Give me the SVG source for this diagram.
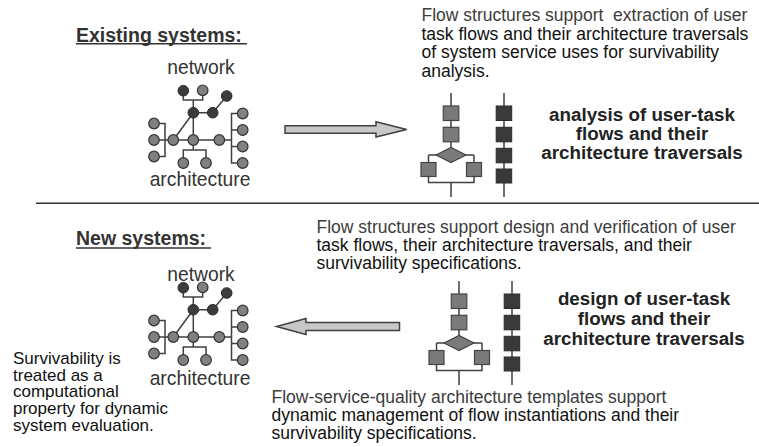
<svg xmlns="http://www.w3.org/2000/svg" xmlns:xlink="http://www.w3.org/1999/xlink" width="759" height="447" viewBox="0 0 759 447">
<style>
text{font-family:"Liberation Sans",Arial,sans-serif;}
.head{font-size:19.5px;font-weight:bold;fill:#333;}
.lbl{font-size:19.3px;fill:#333;text-anchor:middle;}
.p1{font-size:17.5px;fill:#3c3c3c;}
.p2{font-size:17.5px;fill:#111;}
.note{font-size:17px;fill:#111;}
.bold{font-size:18.8px;font-weight:bold;fill:#222;text-anchor:middle;}
.edge{fill:none;stroke:#404040;stroke-width:1.5;}
.nd{fill:#3c3c3c;stroke:#2a2a2a;stroke-width:1;}
.ng{fill:#808080;stroke:#333;stroke-width:1.2;}
.sq{fill:#7a7a7a;stroke:#444;stroke-width:1.2;}
.sqd{fill:#3a3a3a;stroke:#2a2a2a;stroke-width:1;}
.arrow{fill:#c8c8c8;stroke:#404040;stroke-width:1.5;}
.rule{stroke:#333;stroke-width:1.5;}
</style>
<defs>
<g id="netShape">
<path class="edge" d="M183.3 90.7V100H202.7V90M193.3 100V150M193.3 112.7H212.7L226.7 96M193.3 112.7L173.3 140M154 140H231.5M154 123.5H165V156.5H154M242.7 113.5H231.5V163H242.7M231.5 130H242.7M231.5 146.5H242.7M183.3 163V150H206V163"/>
<circle class="nd" cx="183.3" cy="90.7" r="5.3"/>
<circle class="ng" cx="202.7" cy="90.3" r="5.3"/>
<circle class="nd" cx="226.7" cy="96" r="5.3"/>
<circle class="nd" cx="193.3" cy="112.7" r="5.3"/>
<circle class="nd" cx="212.7" cy="112.7" r="5.3"/>
<circle class="ng" cx="154" cy="123.5" r="5.3"/>
<circle class="ng" cx="154" cy="140" r="5.3"/>
<circle class="ng" cx="154" cy="156.5" r="5.3"/>
<circle class="ng" cx="173.3" cy="140" r="5.3"/>
<circle class="ng" cx="193.3" cy="140" r="5.3"/>
<circle class="ng" cx="219.3" cy="140" r="5.3"/>
<circle class="ng" cx="242.7" cy="113.5" r="5.3"/>
<circle class="ng" cx="242.7" cy="130" r="5.3"/>
<circle class="ng" cx="242.7" cy="146.5" r="5.3"/>
<circle class="ng" cx="242.7" cy="163" r="5.3"/>
<circle class="ng" cx="183.3" cy="163" r="5.3"/>
<circle class="ng" cx="206" cy="163" r="5.3"/>
</g>
<g id="flowShape">
<path class="edge" d="M451 93V148M451 182.5V197M428.5 155H474M428.5 155V182.5H474V155M504 93V197"/>
<rect class="sq" x="443.3" y="106" width="15.5" height="14.5"/>
<rect class="sq" x="443.3" y="127.3" width="15.5" height="14.5"/>
<polygon class="sq" points="436,155 451,147.5 466,155 451,162.5"/>
<rect class="sq" x="421" y="162.5" width="15" height="14"/>
<rect class="sq" x="466.5" y="162.5" width="15" height="14"/>
<rect class="sqd" x="496.2" y="106" width="15.5" height="14.5"/>
<rect class="sqd" x="496.2" y="127.3" width="15.5" height="14.5"/>
<rect class="sqd" x="496.2" y="148.3" width="15.5" height="14.5"/>
<rect class="sqd" x="496.2" y="169" width="15.5" height="14"/>
</g>
</defs>

<g id="existing-title">
<text class="head" x="76" y="41.5">Existing systems:</text>
<line class="rule" x1="76" y1="43.8" x2="247" y2="43.8"/>
</g>
<g id="existing-network">
<text class="lbl" x="201" y="73.5">network</text>
<use xlink:href="#netShape" href="#netShape"/>
<text class="lbl" x="200" y="185.5">architecture</text>
</g>
<g id="existing-text">
<text class="p1" x="421.5" y="21">Flow structures support&#160; extraction of user</text>
<text class="p2" x="421.5" y="39.5">task flows and their architecture traversals</text>
<text class="p2" x="421.5" y="58">of system service uses for survivability</text>
<text class="p2" x="421.5" y="76.5">analysis.</text>
</g>
<g id="existing-flow">
<use xlink:href="#flowShape" href="#flowShape"/>
</g>
<g id="existing-label">
<text class="bold" x="642" y="121">analysis of user-task</text>
<text class="bold" x="642" y="140">flows and their</text>
<text class="bold" x="642" y="159">architecture traversals</text>
</g>

<line id="divider" class="rule" x1="36" y1="203.3" x2="759" y2="203.3"/>

<g id="new-title">
<text class="head" x="76" y="244.5">New systems:</text>
<line class="rule" x1="76" y1="248" x2="211" y2="248"/>
</g>
<g id="new-network">
<text class="lbl" x="201" y="280.5">network</text>
<use xlink:href="#netShape" href="#netShape" transform="translate(0,197)"/>
<text class="lbl" x="200" y="385">architecture</text>
</g>
<g id="new-text">
<text class="p1" x="316.5" y="233">Flow structures support design and verification of user</text>
<text class="p2" x="316.5" y="251">task flows, their architecture traversals, and their</text>
<text class="p2" x="316.5" y="269">survivability specifications.</text>
</g>
<g id="new-flow">
<use xlink:href="#flowShape" href="#flowShape" transform="translate(8,188)"/>
</g>
<g id="new-label">
<text class="bold" x="644" y="305">design of user-task</text>
<text class="bold" x="644" y="325">flows and their</text>
<text class="bold" x="644" y="345">architecture traversals</text>
</g>
<g id="survivability-note">
<text class="note" x="13" y="363.5">Survivability is</text>
<text class="note" x="13" y="380.5">treated as a</text>
<text class="note" x="13" y="397">computational</text>
<text class="note" x="13" y="414">property for dynamic</text>
<text class="note" x="13" y="430.5">system evaluation.</text>
</g>
<g id="template-text">
<text class="p1" x="271.5" y="402.5">Flow-service-quality architecture templates support</text>
<text class="p2" x="271.5" y="420.5">dynamic management of flow instantiations and their</text>
<text class="p2" x="271.5" y="438.5">survivability specifications.</text>
</g>

<g id="connectors">
<polygon class="arrow" points="285,125.7 376,125.7 376,121.7 406.7,129.4 376,137 376,133.3 285,133.3"/>
<polygon class="arrow" points="399.5,322.5 306,322.5 306,318.5 276.5,326.5 306,334.5 306,330.5 399.5,330.5"/>
</g>
</svg>
